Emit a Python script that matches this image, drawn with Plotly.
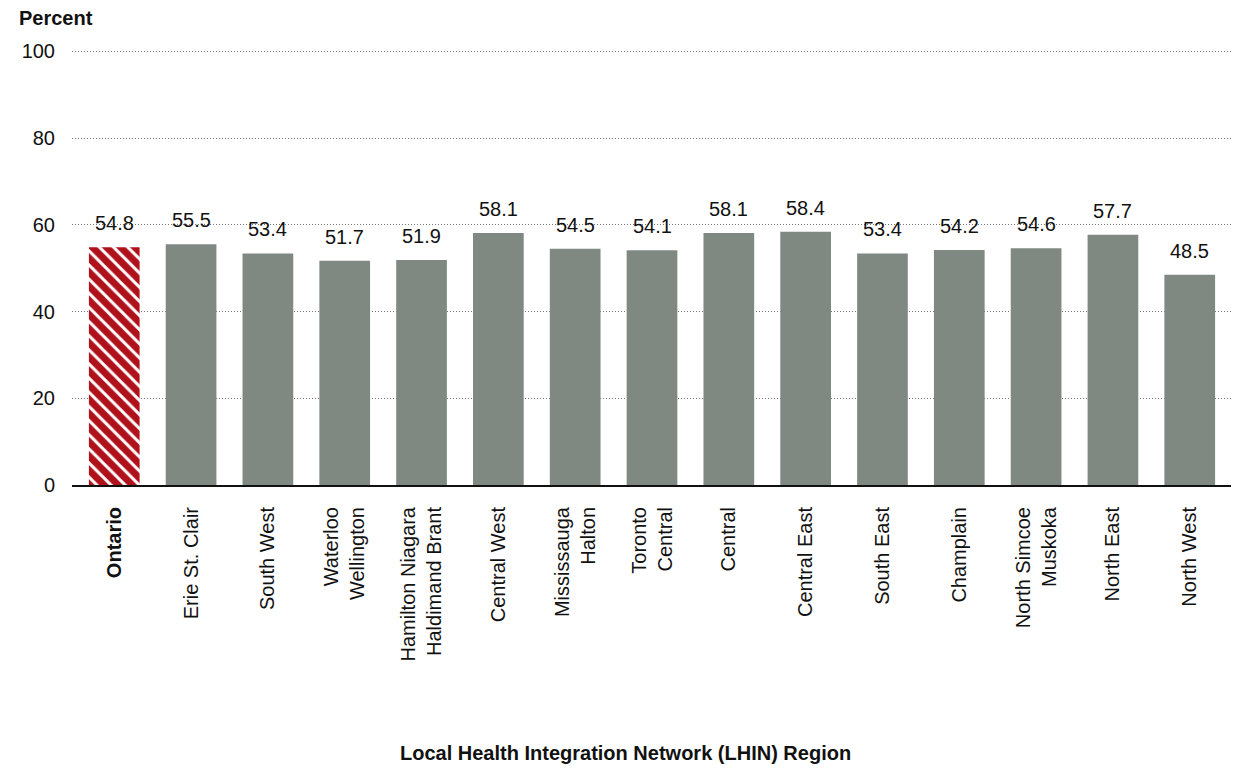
import plotly.graph_objects as go

# ---------------- Daten ----------------
regions = ["<b>Ontario</b>", "Erie St. Clair", "South West", "Waterloo<br>Wellington",
           "Hamilton Niagara<br>Haldimand Brant", "Central West", "Mississauga<br>Halton",
           "Toronto<br>Central", "Central", "Central East", "South East", "Champlain",
           "North Simcoe<br>Muskoka", "North East", "North West"]
percent = [54.8, 55.5, 53.4, 51.7, 51.9, 58.1, 54.5, 54.1, 58.1, 58.4, 53.4, 54.2, 54.6, 57.7, 48.5]
y_ticks = [0, 20, 40, 60, 80, 100]

red = "#b0121b"
grey = "#7f8982"
colors = [red] + [grey] * (len(regions) - 1)
shapes = ["\\"] + [""] * (len(regions) - 1)

font_name = "Liberation Sans, Arial, Helvetica, sans-serif"

# Plotbereich in Pixeln (Figur-Koordinaten)
W, H = 1228, 761
L, R, T, B = 64, 4, 42, 284
pw, ph = W - L - R, H - T - B

fig = go.Figure()
fig.add_trace(go.Bar(
    x=regions, y=percent,
    marker=dict(color=colors, line=dict(width=0),
                pattern=dict(shape=shapes, fgcolor="white", fgopacity=1, size=10,
                             solidity=0.3, fillmode="overlay")),
    hoverinfo="x+y",
))

# Werte ueber den Balken
for r, v in zip(regions, percent):
    fig.add_annotation(x=r, y=v, text=f"{v:.1f}", showarrow=False, yanchor="bottom",
                       yshift=11, font=dict(size=20, color="#111"))

fig.update_layout(
    width=W, height=H,
    margin=dict(l=L, r=R, t=T, b=B),
    plot_bgcolor="white", paper_bgcolor="white",
    font=dict(family=font_name, color="#111"),
    bargap=0.34,
    showlegend=False,
    xaxis=dict(tickangle=-90, tickfont=dict(size=20), showline=True, linecolor="#111",
               linewidth=2, ticks="", showgrid=False, range=[-0.55, 14.55],
               ticklabelstandoff=12),
    yaxis=dict(range=[0, 100.3], tickvals=y_ticks, tickfont=dict(size=20), showline=False,
               zeroline=False, showgrid=True, gridcolor="#777", griddash="1px,2px",
               gridwidth=1, ticks="", ticklabelstandoff=16),
)

# Achsentitel
fig.add_annotation(text="<b>Percent</b>", xref="paper", yref="paper",
                   x=(9 - L) / pw, y=1 + (T - 9.5) / ph, xanchor="left", yanchor="middle",
                   showarrow=False, font=dict(size=20))
fig.add_annotation(text="<b>Local Health Integration Network (LHIN) Region</b>",
                   xref="paper", yref="paper", x=(617 - L) / pw, y=-(745 - (H - B)) / ph,
                   xanchor="center", yanchor="middle", showarrow=False, font=dict(size=20))

fig.write_html("out.html")
